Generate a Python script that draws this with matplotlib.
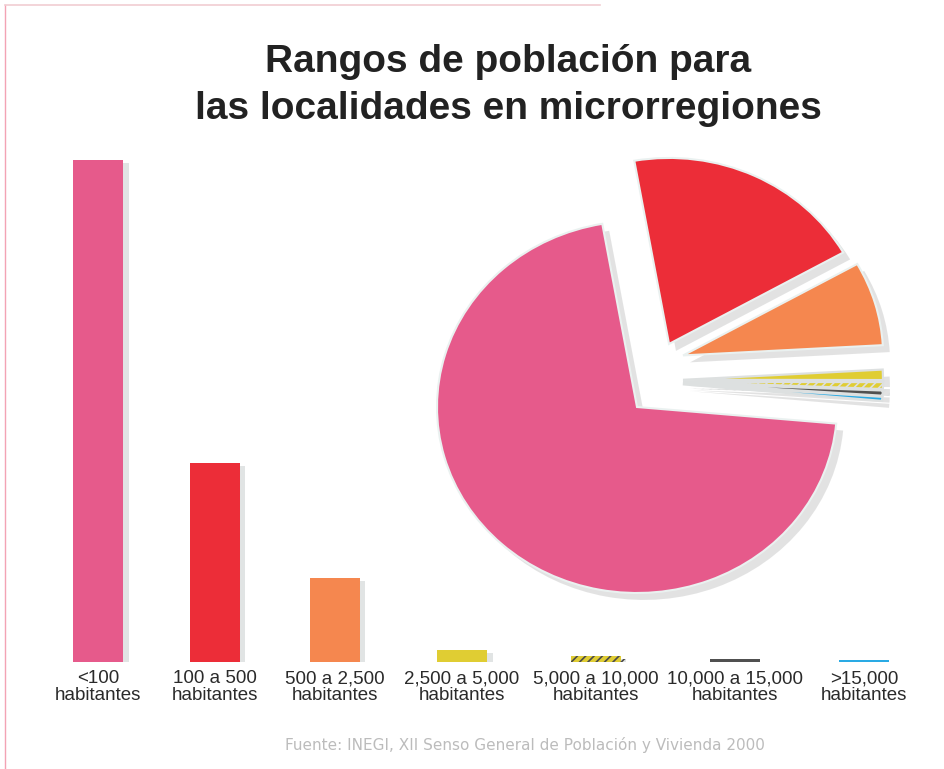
"""Rangos de poblacion para las localidades en microrregiones: bars + exploded pie."""
import numpy as np
import matplotlib
matplotlib.use("Agg")
import matplotlib.pyplot as plt
import matplotlib.patheffects as pe
from matplotlib.lines import Line2D

# ---------- data ----------
categories = ["<100", "100 a 500", "500 a 2,500", "2,500 a 5,000",
              "5,000 a 10,000", "10,000 a 15,000", ">15,000"]
tick_labels = [c + "\nhabitantes" for c in categories]
bar_heights = [502, 199, 84, 12, 6, 3, 2]              # relative bar heights
pie_shares = [70.8, 19.6, 7.3, 0.9, 0.6, 0.45, 0.35]   # percent of localities
colors = ["#e65a8b", "#ec2d38", "#f5874f", "#e0cd33", "#e0cd33", "#505050", "#2aaae4"]
hatches = [None, None, None, None, "////", None, None]
# slice displacement (radius units): outward along the bisector, plus a lift
explode = [0.0, 0.375, 0.24, 0.23, 0.23, 0.23, 0.23]
lift = [0.0, 0.0, 0.21, 0.14, 0.14, 0.14, 0.14]

W, H = 944, 769
fig = plt.figure(figsize=(W / 100, H / 100), dpi=100)
plt.rcParams["hatch.linewidth"] = 1.2
label_kw = dict(fontsize=13.5, family="Liberation Sans", color="#2a2a2a", linespacing=0.97)

# ---------- bars ----------
# bar slots: halfway between even spacing and spacing that keeps an even gap
# between the labels underneath
ax = fig.add_axes([0, (H - 662) / H, 1, 502 / H])
ax.set_xlim(0, W)
renderer = fig.canvas.get_renderer()
widths = []
for lab in tick_labels:
    t = fig.text(0, 0, lab, **label_kw)
    widths.append(t.get_window_extent(renderer).width)
    t.remove()
first, last = 98, 864
n = len(widths)
half = np.array(widths) / 2
gap = (last - first - (half[:-1] + half[1:]).sum()) / (n - 1)
x_fit = first + np.concatenate([[0], np.cumsum(half[:-1] + half[1:] + gap)])
x_even = np.linspace(first, last, n)
x = (x_fit + x_even) / 2

bars = ax.bar(x, bar_heights, 50, color=colors, linewidth=0, zorder=2)
for b, h in zip(bars, hatches):
    if h:
        b.set_hatch(h)
        b.set_edgecolor("#4a4a4a")
    b.set_path_effects([pe.SimplePatchShadow(offset=(4, -2), shadow_rgbFace="#cdd2d2", alpha=0.6),
                        pe.Normal()])
ax.set_ylim(0, bar_heights[0])
ax.set_xticks(x)
ax.set_xticklabels(tick_labels, **label_kw)
ax.tick_params(axis="x", length=0, pad=6)
ax.set_yticks([])
for s in ax.spines.values():
    s.set_visible(False)
ax.patch.set_alpha(0)

# ---------- pie (slightly wider than tall) ----------
RX, RY = 200, 186
S = 600
cx, cy = 637, 407
pax = fig.add_axes([(cx - S / 2) / W, (H - cy - S / 2) / H, S / W, S / H])
order = [1, 2, 3, 4, 5, 6, 0]   # clockwise from the red slice, pink last
wedges, _ = pax.pie([pie_shares[i] for i in order],
                    colors=[colors[i] for i in order],
                    explode=[explode[i] for i in order],
                    startangle=100, counterclock=False,
                    wedgeprops=dict(edgecolor="#eaf1f0", linewidth=1.5))
for w, i in zip(wedges, order):
    if hatches[i]:
        w.set_hatch(hatches[i])
    if lift[i]:
        c0 = w.center
        w.set_center((c0[0], c0[1] + lift[i]))
    if i >= 3:
        w.set_edgecolor("#dde0e0")
        w.set_linewidth(1.6)
    w.set_path_effects([pe.SimplePatchShadow(offset=(5, -5), shadow_rgbFace="#9a9a9a", alpha=0.28),
                        pe.Normal()])
pax.set_aspect("auto")
pax.set_xlim(-S / 2 / RX, S / 2 / RX)
pax.set_ylim(-S / 2 / RY, S / 2 / RY)
pax.axis("off")

# ---------- text ----------
title_kw = dict(ha="center", va="baseline", fontsize=28, fontweight="bold",
                family="Liberation Sans", color="#222222")
fig.text(508 / W, 1 - 72 / H, "Rangos de población para", **title_kw)
fig.text(508 / W, 1 - 119 / H, "las localidades en microrregiones", **title_kw)
fig.text(525 / W, 1 - 745 / H, "Fuente: INEGI, XII Senso General de Población y Vivienda 2000",
         ha="center", va="center", fontsize=11, family="DejaVu Sans", color="#bcbcbc")

# thin page border, top-left
fig.add_artist(Line2D([5 / W, 5 / W], [0, 1 - 5 / H], color="#f3a3b4", lw=1))
fig.add_artist(Line2D([5 / W, 600 / W], [1 - 5 / H, 1 - 5 / H], color="#f1cdd2", lw=1.2))

fig.savefig("out.png", dpi=100)
